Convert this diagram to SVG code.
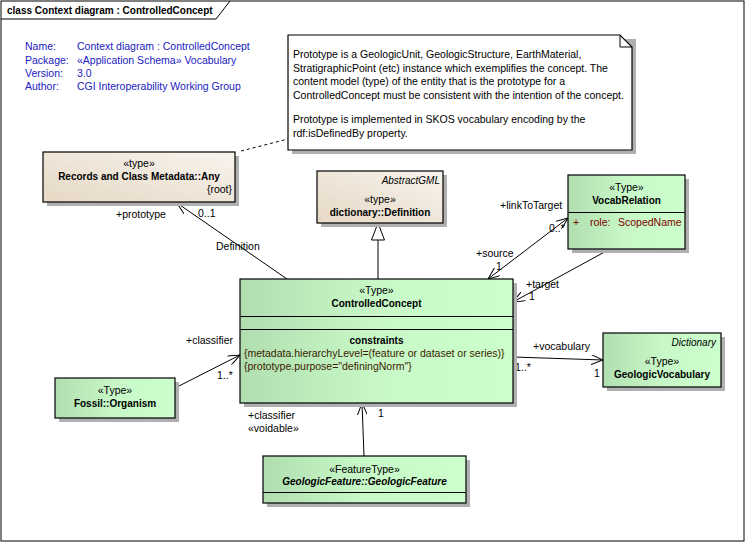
<svg xmlns="http://www.w3.org/2000/svg" width="746" height="543" viewBox="0 0 746 543">
<style>
text{font-family:"Liberation Sans",Arial,sans-serif;font-size:10.5px;fill:#000}
.b{font-weight:bold;font-size:10px}
.bi{font-weight:bold;font-style:italic;font-size:10px}
.i{font-style:italic;font-size:10px}
.m{fill:#2020c0}
.c{text-anchor:middle}
.r{text-anchor:end}
.box{stroke:#000;stroke-width:1.2}
.sh{fill:#b0b0b0}
.ln{stroke:#000;stroke-width:1;fill:none}
.cn{fill:#3a1c00}
.attr{fill:#800000}
</style>
<defs>
<linearGradient id="g" x1="0" y1="0" x2="1" y2="0">
<stop offset="0" stop-color="#b0deb0"/>
<stop offset="0.5" stop-color="#c8f8c8"/>
<stop offset="1" stop-color="#ccffcc"/>
</linearGradient>
<linearGradient id="t" x1="0" y1="1" x2="1" y2="0">
<stop offset="0" stop-color="#e6d8c4"/>
<stop offset="1" stop-color="#f8f4ee"/>
</linearGradient>
<marker id="a" viewBox="0 0 12 10" refX="12" refY="5" markerWidth="12" markerHeight="10" markerUnits="userSpaceOnUse" orient="auto-start-reverse">
<path d="M0,0 L12,5 L0,10" fill="none" stroke="#000" stroke-width="1"/>
</marker>
</defs>
<rect x="0" y="0" width="746" height="543" fill="#fff"/>
<g id="frame">
<rect x="1" y="1" width="743" height="540" fill="none" stroke="#000" stroke-width="1"/>
<path d="M1,19 L216,19 L230,1" fill="none" stroke="#000" stroke-width="1"/>
<text x="7" y="14" class="b">class Context diagram : ControlledConcept</text>
</g>
<g id="metadata">
<text x="25" y="50" class="m">Name:</text><text x="77" y="50" class="m">Context diagram : ControlledConcept</text>
<text x="25" y="63.5" class="m">Package:</text><text x="77" y="63.5" class="m">«Application Schema» Vocabulary</text>
<text x="25" y="76.5" class="m">Version:</text><text x="77" y="76.5" class="m">3.0</text>
<text x="25" y="89.5" class="m">Author:</text><text x="77" y="89.5" class="m">CGI Interoperability Working Group</text>
</g>
<g id="connectors">
<line x1="241" y1="151" x2="288" y2="139" stroke="#000" stroke-width="1" stroke-dasharray="3,3"/>
<line class="ln" x1="287" y1="279" x2="177" y2="203" marker-end="url(#a)"/>
<line class="ln" x1="378" y1="279" x2="378" y2="240"/>
<polygon points="378,223 371.5,240 384.5,240" fill="#fff" stroke="#000" stroke-width="1"/>
<line class="ln" x1="488" y1="279" x2="568" y2="218" marker-start="url(#a)" marker-end="url(#a)"/>
<line class="ln" x1="610" y1="249" x2="513" y2="302" marker-end="url(#a)"/>
<line class="ln" x1="175" y1="388" x2="240" y2="355" marker-end="url(#a)"/>
<line class="ln" x1="513" y1="357" x2="603" y2="360" marker-end="url(#a)"/>
<line class="ln" x1="364" y1="456" x2="362" y2="403" marker-end="url(#a)"/>
<text x="116" y="218">+prototype</text>
<text x="198" y="217">0..1</text>
<text x="216" y="250">Definition</text>
<text x="500" y="209">+linkToTarget</text>
<text x="549" y="232">0..*</text>
<text x="476" y="257">+source</text>
<text x="496" y="270">1</text>
<text x="526" y="288">+target</text>
<text x="529" y="300">1</text>
<text x="186" y="344">+classifier</text>
<text x="217" y="379">1..*</text>
<text x="533" y="350">+vocabulary</text>
<text x="515" y="371">1..*</text>
<text x="594" y="377">1</text>
<text x="248" y="419">+classifier</text>
<text x="248" y="432">«voidable»</text>
<text x="378" y="417">1</text>
</g>
<g id="note">
<path class="sh" d="M292,39 L636,39 L636,154 L292,154 Z"/>
<path d="M288,35 L620,35 L632,47 L632,150 L288,150 Z" fill="#fff" class="box"/>
<path d="M620,35 L620,47 L632,47" fill="none" stroke="#000" stroke-width="1"/>
<text x="293" y="58">Prototype is a GeologicUnit, GeologicStructure, EarthMaterial,</text>
<text x="293" y="71.5">StratigraphicPoint (etc) instance which exemplifies the concept.  The</text>
<text x="293" y="85">content model (type) of the entity that is the prototype for a</text>
<text x="293" y="98.5">ControlledConcept must be consistent with the intention of the concept.</text>
<text x="293" y="123">Prototype is implemented in SKOS vocabulary encoding by the</text>
<text x="293" y="136.5">rdf:isDefinedBy property.</text>
</g>
<g id="records">
<rect class="sh" x="47" y="156" width="192" height="50"/>
<rect class="box" x="43" y="152" width="192" height="50" fill="url(#t)"/>
<text x="139" y="167" class="c">«type»</text>
<text x="139" y="180" class="b c">Records and Class Metadata::Any</text>
<text x="232" y="193" class="r">{root}</text>
</g>
<g id="definition">
<rect class="sh" x="321" y="175" width="126" height="52"/>
<rect class="box" x="317" y="171" width="126" height="52" fill="url(#t)"/>
<text x="440" y="184" class="i r">AbstractGML</text>
<text x="380" y="203" class="c">«type»</text>
<text x="380" y="216" class="b c">dictionary::Definition</text>
</g>
<g id="vocabrelation">
<rect class="sh" x="572" y="179" width="117" height="74"/>
<rect class="box" x="568" y="175" width="117" height="74" fill="url(#g)"/>
<line class="ln" x1="568" y1="212.5" x2="685" y2="212.5"/>
<text x="626.5" y="191" class="c">«Type»</text>
<text x="626.5" y="204" class="b c">VocabRelation</text>
<text x="573" y="226" class="attr">+</text>
<text x="590" y="226" class="attr">role:</text>
<text x="618" y="226" class="attr">ScopedName</text>
</g>
<g id="controlledconcept">
<rect class="sh" x="244" y="283" width="273" height="124"/>
<rect class="box" x="240" y="279" width="273" height="124" fill="url(#g)"/>
<line class="ln" x1="240" y1="316.5" x2="513" y2="316.5"/>
<line class="ln" x1="240" y1="329.5" x2="513" y2="329.5"/>
<text x="376.5" y="294" class="c">«Type»</text>
<text x="376.5" y="307" class="b c">ControlledConcept</text>
<text x="376.5" y="344" class="b c">constraints</text>
<text x="244" y="357" class="cn">{metadata.hierarchyLevel=(feature or dataset or series)}</text>
<text x="244" y="370" class="cn">{prototype.purpose="definingNorm"}</text>
</g>
<g id="fossil">
<rect class="sh" x="59" y="382" width="120" height="40"/>
<rect class="box" x="55" y="378" width="120" height="40" fill="url(#g)"/>
<text x="115" y="394" class="c">«Type»</text>
<text x="115" y="407" class="b c">Fossil::Organism</text>
</g>
<g id="geologicvocabulary">
<rect class="sh" x="607" y="337" width="118" height="54"/>
<rect class="box" x="603" y="333" width="118" height="54" fill="url(#g)"/>
<text x="716" y="346" class="i r">Dictionary</text>
<text x="662" y="365" class="c">«Type»</text>
<text x="662" y="378" class="b c">GeologicVocabulary</text>
</g>
<g id="geologicfeature">
<rect class="sh" x="267" y="460" width="203" height="47"/>
<rect class="box" x="263" y="456" width="203" height="47" fill="url(#g)"/>
<line class="ln" x1="263" y1="492.5" x2="466" y2="492.5"/>
<text x="364.5" y="473" class="c">«FeatureType»</text>
<text x="364.5" y="485" class="bi c">GeologicFeature::GeologicFeature</text>
</g>
</svg>
